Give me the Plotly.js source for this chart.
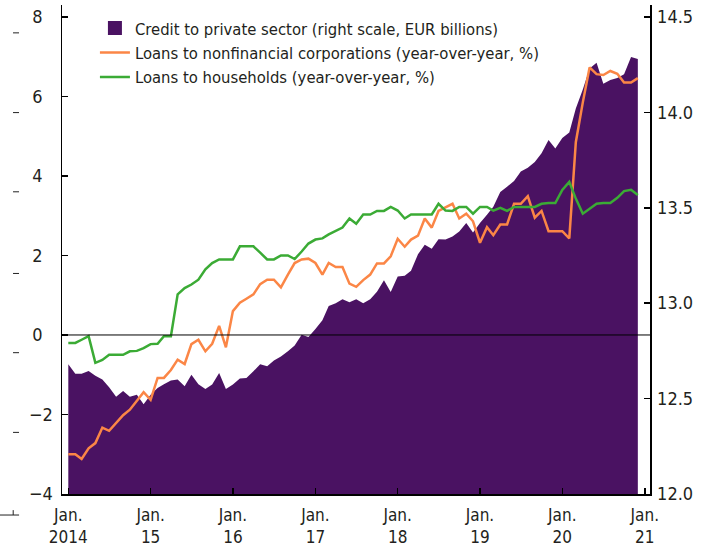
<!DOCTYPE html>
<html>
<head>
<meta charset="utf-8">
<script src="https://cdn.plot.ly/plotly-3.0.1.min.js"></script>
<style>html,body{margin:0;padding:0;background:#fff;}#chart{width:702px;height:550px;}</style>
</head>
<body>
<div id="chart"></div>
<script>
// Monthly, Jan 2014 - Dec 2020
var startYear = 2014, nMonths = 84;
var months = [];
for (var i = 0; i < nMonths; i++) {
  var yr = startYear + Math.floor(i / 12), mo = (i % 12) + 1;
  months.push(yr + '-' + (mo < 10 ? '0' + mo : mo) + '-01');
}

// Credit to private sector (right scale, EUR billions)
var credit = [12.68,12.63,12.63,12.645,12.62,12.60,12.56,12.51,12.54,12.51,12.52,12.47,
  12.52,12.555,12.575,12.595,12.60,12.565,12.625,12.575,12.55,12.574,12.634,12.55,
  12.574,12.605,12.608,12.643,12.68,12.67,12.70,12.72,12.748,12.778,12.835,12.823,
  12.865,12.91,12.985,13.0,13.02,13.005,13.02,13.0,13.02,13.06,13.12,13.058,
  13.14,13.144,13.17,13.257,13.306,13.285,13.335,13.333,13.35,13.375,13.42,13.37,
  13.42,13.463,13.505,13.583,13.61,13.64,13.69,13.71,13.74,13.785,13.855,13.81,
  13.865,13.895,14.02,14.12,14.23,14.26,14.15,14.17,14.18,14.2,14.29,14.28];

// Loans to nonfinancial corporations (y/y, %)
var nfc = [-3.0,-3.0,-3.12,-2.85,-2.72,-2.33,-2.41,-2.22,-2.02,-1.88,-1.67,-1.44,
  -1.63,-1.08,-1.08,-0.88,-0.62,-0.73,-0.23,-0.12,-0.41,-0.22,0.23,-0.31,
  0.6,0.81,0.91,1.02,1.28,1.39,1.39,1.2,1.52,1.81,1.9,1.92,
  1.81,1.52,1.81,1.71,1.71,1.29,1.21,1.38,1.52,1.8,1.8,1.98,
  2.42,2.22,2.4,2.5,2.93,2.7,3.12,3.2,3.3,2.93,3.05,2.86,
  2.32,2.71,2.51,2.78,2.78,3.3,3.3,3.49,2.95,3.12,2.61,2.61,
  2.61,2.43,4.85,5.85,6.73,6.56,6.54,6.64,6.57,6.35,6.35,6.46];

// Loans to households (y/y, %)
var hh = [-0.2,-0.2,-0.12,-0.03,-0.7,-0.63,-0.5,-0.5,-0.5,-0.41,-0.4,-0.33,
  -0.23,-0.22,-0.03,-0.03,1.02,1.18,1.27,1.39,1.65,1.81,1.9,1.9,
  1.9,2.23,2.23,2.23,2.07,1.9,1.9,2.0,2.0,1.91,2.1,2.3,
  2.4,2.43,2.53,2.61,2.7,2.93,2.8,3.03,3.03,3.12,3.12,3.22,
  3.13,2.93,3.03,3.03,3.03,3.03,3.3,3.13,3.12,3.22,3.22,3.05,
  3.22,3.22,3.13,3.2,3.12,3.22,3.22,3.22,3.22,3.3,3.32,3.32,
  3.65,3.85,3.43,3.05,3.18,3.3,3.32,3.32,3.45,3.62,3.65,3.52];

var tickDates = ['2014-01-01','2015-01-01','2016-01-01','2017-01-01','2018-01-01','2019-01-01','2020-01-01','2021-01-01'];
var tickLabels = ['Jan.<br>2014','Jan.<br>15','Jan.<br>16','Jan.<br>17','Jan.<br>18','Jan.<br>19','Jan.<br>20','Jan.<br>21'];
var leftTicks = [-4,-2,0,2,4,6,8];
var leftLabels = ['\u22124','\u22122','0\u2007','2\u2007','4\u2007','6\u2007','8\u2007'];
var rightTicks = [12.0,12.5,13.0,13.5,14.0,14.5];
var rightLabels = ['12.0','12.5','13.0','13.5','14.0','14.5'];

var seriesNames = ['Credit to private sector (right scale, EUR billions)',
  'Loans to nonfinancial corporations (year-over-year, %)',
  'Loans to households (year-over-year, %)'];

var PURPLE = '#4a1262', ORANGE = '#fb8646', GREEN = '#3bab35';
var FONT = 'Liberation Sans Narrow, Arial Narrow, DejaVu Sans Condensed, sans-serif';

var traces = [
  {x: months, y: credit, yaxis: 'y', type: 'scatter', mode: 'none', fill: 'tozeroy',
   fillcolor: PURPLE, showlegend: false, hoverinfo: 'skip'},
  {x: [null], y: [null], yaxis: 'y', type: 'scatter', mode: 'markers', name: seriesNames[0],
   marker: {symbol: 'square', size: 14, color: PURPLE}},
  {x: months, y: nfc, yaxis: 'y2', type: 'scatter', mode: 'lines', name: seriesNames[1],
   line: {color: ORANGE, width: 2.5}},
  {x: months, y: hh, yaxis: 'y2', type: 'scatter', mode: 'lines', name: seriesNames[2],
   line: {color: GREEN, width: 2.5}}
];

var strayY = [0.943, 0.78, 0.618, 0.451, 0.289, 0.126];
var shapes = [{type: 'line', xref: 'paper', yref: 'paper', x0: 0, x1: 1, y0: 4/12.3, y1: 4/12.3,
  line: {color: '#000', width: 1}, layer: 'above'}];
strayY.forEach(function (v) {
  shapes.push({type: 'line', xref: 'paper', yref: 'paper', x0: -0.0833, x1: -0.0731, y0: v, y1: v,
    line: {color: '#222', width: 1}});
});
shapes.push({type: 'line', xref: 'paper', yref: 'paper', x0: -0.106, x1: -0.073, y0: -0.043, y1: -0.043,
  line: {color: '#222', width: 1}});
shapes.push({type: 'line', xref: 'paper', yref: 'paper', x0: -0.083, x1: -0.083, y0: -0.043, y1: -0.033,
  line: {color: '#222', width: 1}});

var axisCommon = {ticks: 'inside', ticklen: 6, tickcolor: '#000', tickwidth: 1.5, showgrid: false,
  zeroline: false, showline: true, linecolor: '#000', linewidth: 1.5, layer: 'above traces',
  tickfont: {size: 18}};

var layout = {
  width: 702, height: 550,
  margin: {l: 62, r: 52, t: 5, b: 56},
  paper_bgcolor: '#fff', plot_bgcolor: '#fff',
  font: {family: FONT, size: 18, color: '#231f20'},
  showlegend: true,
  legend: {x: 0.056, y: 0.988, xanchor: 'left', yanchor: 'top', bgcolor: 'rgba(0,0,0,0)',
    font: {family: FONT, size: 16.5, color: '#231f20'}, tracegroupgap: 0},
  xaxis: Object.assign({}, axisCommon, {type: 'date', range: ['2013-12-04', '2021-01-24'],
    tickvals: tickDates, ticktext: tickLabels, ticklabelstandoff: 5, tickfont: {size: 17}}),
  yaxis: Object.assign({}, axisCommon, {range: [12, 14.5625], side: 'right',
    tickvals: rightTicks, ticktext: rightLabels, ticklabelstandoff: 2}),
  yaxis2: Object.assign({}, axisCommon, {range: [-4, 8.3], side: 'left', overlaying: 'y',
    tickvals: leftTicks, ticktext: leftLabels, ticklabelstandoff: 4}),
  shapes: shapes
};

Plotly.newPlot('chart', traces, layout, {displayModeBar: false, staticPlot: true});
</script>
</body>
</html>
